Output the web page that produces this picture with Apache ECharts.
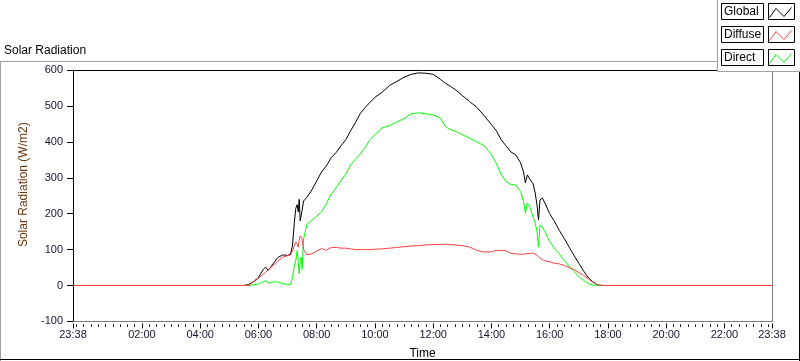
<!DOCTYPE html>
<html><head><meta charset="utf-8">
<script src="https://cdn.jsdelivr.net/npm/echarts@6/dist/echarts.min.js"></script>
<style>html,body{margin:0;padding:0;background:#fff}#c{width:800px;height:361px}</style>
</head><body><div id="c"></div>
<script>
// minutes since midnight (23:38 of previous day = -22, 23:38 = 1418)
const times = [-22, 320, 330, 340, 350, 360, 370, 375, 380, 390, 400, 410, 420, 426, 430, 434, 437, 440, 442, 444, 446, 448, 450, 453, 460, 470, 480, 490, 500, 510, 520, 530, 540, 550, 560, 570, 580, 590, 600, 615, 630, 645, 660, 675, 690, 705, 720, 735, 745, 755, 765, 780, 795, 810, 825, 840, 850, 860, 870, 880, 890, 900, 906, 910, 914, 920, 926, 930, 934, 937, 940, 945, 950, 960, 970, 980, 990, 1000, 1010, 1020, 1030, 1040, 1050, 1060, 1070, 1418];
const globalRad = [0, 0, 0, 3, 11, 22, 45, 51, 42, 60, 78, 85, 84, 87, 110, 175, 215, 225, 205, 240, 180, 175, 210, 235, 246, 266, 291, 316, 333, 356, 370, 389, 406, 431, 454, 479, 496, 510, 524, 538, 557, 568, 580, 588, 592, 591, 588, 574, 563, 555, 546, 529, 512, 496, 473, 448, 431, 406, 389, 372, 364, 342, 316, 286, 308, 294, 283, 258, 224, 182, 238, 244, 230, 200, 178, 153, 131, 107, 84, 62, 40, 21, 9, 1, 0, 0];
const diffuseRad = [0, 0, 0, 1, 10, 20, 32, 37, 44, 55, 68, 79, 83, 85, 95, 112, 121, 115, 107, 125, 138, 140, 130, 100, 86, 88, 96, 103, 98, 106, 106, 104, 104, 102, 100, 100, 100, 100, 101, 102, 104, 106, 108, 110, 111, 113, 114, 114, 115, 114, 113, 111, 107, 98, 93, 94, 98, 97, 97, 90, 88, 87, 87, 88, 89, 90, 90, 87, 84, 80, 76, 72, 69, 66, 62, 60, 56, 50, 44, 36, 28, 18, 8, 2, 0, 0];
const directRad = [0, 0, 0, 0, 2, 4, 10, 14, 7, 10, 10, 5, 3, 3, 20, 55, 70, 98, 65, 33, 70, 79, 45, 130, 170, 182, 193, 205, 228, 255, 272, 292, 310, 336, 352, 366, 385, 406, 420, 439, 445, 455, 465, 478, 481, 478, 475, 466, 443, 434, 430, 420, 410, 400, 389, 365, 340, 310, 290, 281, 280, 262, 235, 201, 230, 215, 190, 175, 150, 107, 168, 163, 150, 122, 103, 87, 70, 54, 39, 25, 14, 5, 1, 0, 0, 0];

const seriesNames = ['Global', 'Diffuse', 'Direct'];
const seriesColors = ['#000000', '#ff4040', '#00ff00'];
const majorTickMinutes = [-22, 120, 240, 360, 480, 600, 720, 840, 960, 1080, 1200, 1320, 1418];
const majorTickLabels = ['23:38', '02:00', '04:00', '06:00', '08:00', '10:00', '12:00', '14:00', '16:00', '18:00', '20:00', '22:00', '23:38'];
const yMin = -100, yMax = 600, yStep = 100;

const minorTickMinutes = [];
for (let m = -15; m < 1418; m += 15) if (majorTickMinutes.indexOf(m) < 0) minorTickMinutes.push(m);

const FONT = '"Liberation Sans", Arial, sans-serif';
const TICKCOL = '#141432';
const pairs = arr => times.map((t, i) => [t, arr[i]]);
const valuesBy = { Global: globalRad, Diffuse: diffuseRad, Direct: directRad };
const zBy = { Global: 3, Direct: 4, Diffuse: 5 };

const chart = echarts.init(document.getElementById('c'), null, { renderer: 'canvas' });

const xBase = { type: 'value', min: -22, max: 1418, splitLine: { show: false } };

// legend as graphic
const legendGraphics = [];
legendGraphics.push({ type: 'rect', z: 100, shape: { x: 717.5, y: -2, width: 90, height: 73.5 },
  style: { fill: '#fff', stroke: '#a0a0a0', lineWidth: 1 } });
const rowY = [3.5, 26.5, 49.5];
seriesNames.forEach((name, i) => {
  const y = rowY[i];
  legendGraphics.push({ type: 'rect', z: 101, shape: { x: 721.5, y: y, width: 42, height: 16 },
    style: { fill: '#fff', stroke: '#000', lineWidth: 1 } });
  legendGraphics.push({ type: 'text', z: 102, x: 724, y: y + 8.5,
    style: { text: name, font: '12px ' + FONT, fill: '#000', verticalAlign: 'middle', align: 'left' } });
  legendGraphics.push({ type: 'rect', z: 101, shape: { x: 768.5, y: y, width: 26, height: 16 },
    style: { fill: '#fff', stroke: '#000', lineWidth: 1 } });
  legendGraphics.push({ type: 'polyline', z: 102,
    shape: { points: [[769.5, y + 14], [776, y + 5], [784, y + 13], [791.5, y + 4]] },
    style: { stroke: seriesColors[i], lineWidth: 1, fill: null } });
});

const frame = [
  { type: 'line', z: 99, shape: { x1: 0, y1: 61.5, x2: 717, y2: 61.5 }, style: { stroke: '#a0a0a0', lineWidth: 1 } },
  { type: 'line', z: 99, shape: { x1: 0.5, y1: 61, x2: 0.5, y2: 361 }, style: { stroke: '#a0a0a0', lineWidth: 1 } },
  { type: 'line', z: 99, shape: { x1: 0, y1: 359.5, x2: 800, y2: 359.5 }, style: { stroke: '#000', lineWidth: 1 } },
  { type: 'line', z: 99, shape: { x1: 799.5, y1: 71, x2: 799.5, y2: 361 }, style: { stroke: '#000', lineWidth: 1 } }
];

chart.setOption({
  animation: false,
  backgroundColor: '#fff',
  title: { text: 'Solar Radiation', left: 4, top: 45, padding: 0,
    textStyle: { fontFamily: FONT, fontSize: 12, fontWeight: 'normal', color: '#000' } },
  grid: { left: 73, right: 28, top: 70, bottom: 39.58, outerBoundsMode: 'none', containLabel: false },
  xAxis: [
    Object.assign({}, xBase, {
      position: 'bottom',
      name: 'Time', nameLocation: 'middle', nameGap: 26,
      nameTextStyle: { fontFamily: FONT, fontSize: 12, color: '#000' },
      axisLine: { show: true, onZero: false, lineStyle: { color: '#808080', width: 1 } },
      axisTick: { show: false },
      axisLabel: { show: true, customValues: majorTickMinutes, margin: 8,
        fontFamily: FONT, fontSize: 11, color: TICKCOL,
        formatter: v => { const i = majorTickMinutes.indexOf(v); return i >= 0 ? majorTickLabels[i] : ''; } }
    }),
    Object.assign({}, xBase, {
      position: 'bottom', offset: 2,
      axisLine: { show: false, onZero: false },
      axisTick: { show: true, customValues: majorTickMinutes, length: 5, lineStyle: { color: '#000', width: 1 } },
      axisLabel: { show: false }
    }),
    Object.assign({}, xBase, {
      position: 'bottom', offset: 3,
      axisLine: { show: false, onZero: false },
      axisTick: { show: true, customValues: minorTickMinutes, length: 2.5, lineStyle: { color: '#000', width: 1 } },
      axisLabel: { show: false }
    }),
    Object.assign({}, xBase, {
      position: 'top',
      axisLine: { show: true, onZero: false, lineStyle: { color: '#000', width: 1 } },
      axisTick: { show: false }, axisLabel: { show: false }
    })
  ],
  yAxis: [
    {
      type: 'value', position: 'left', min: yMin, max: yMax, interval: yStep,
      name: 'Solar Radiation (W/m2)', nameLocation: 'middle', nameGap: 40, nameRotate: 90,
      nameTextStyle: { fontFamily: FONT, fontSize: 12, color: '#6b3510', padding: [0, 0, 0, 22] },
      axisLine: { show: true, onZero: false, lineStyle: { color: '#000', width: 1 } },
      axisTick: { show: true, length: 6, lineStyle: { color: '#000', width: 1 } },
      axisLabel: { margin: 10, fontFamily: FONT, fontSize: 11, color: TICKCOL },
      splitLine: { show: false }
    },
    {
      type: 'value', position: 'right', min: yMin, max: yMax, interval: yStep,
      axisLine: { show: true, onZero: false, lineStyle: { color: '#808080', width: 1 } },
      axisTick: { show: false }, axisLabel: { show: false }, splitLine: { show: false }
    }
  ],
  series: ['Global', 'Direct', 'Diffuse'].map(name => ({
    name: name, type: 'line', xAxisIndex: 0, yAxisIndex: 0, z: zBy[name],
    data: pairs(valuesBy[name]), showSymbol: false, symbol: 'none',
    lineStyle: { color: seriesColors[seriesNames.indexOf(name)], width: 1 },
    itemStyle: { color: seriesColors[seriesNames.indexOf(name)] },
    emphasis: { disabled: true }, silent: true
  })),
  graphic: frame.concat(legendGraphics)
});
</script></body></html>
